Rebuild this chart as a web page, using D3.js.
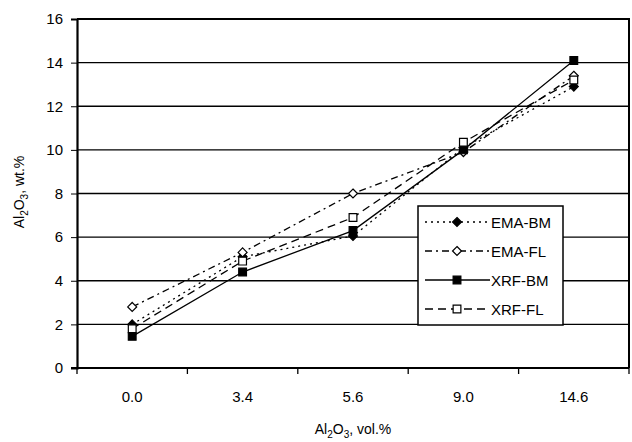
<!DOCTYPE html>
<html>
<head>
<meta charset="utf-8">
<script src="https://cdn.jsdelivr.net/npm/d3@7"></script>
<style>
  body { margin: 0; background: #fff; }
  text { font-family: "Liberation Sans", Arial, sans-serif; fill: #000; }
</style>
</head>
<body>
<svg id="chart" width="632" height="442"></svg>
<script>
// categories along x (Al2O3 vol.%)
let categories = ["0.0", "3.4", "5.6", "9.0", "14.6"];
let yTicks = [0, 2, 4, 6, 8, 10, 12, 14, 16];

// series, wt.%
let emaBM = [2.0, 5.1, 6.05, 10.1, 12.9];
let emaFL = [2.8, 5.3, 8.0, 9.9, 13.4];
let xrfBM = [1.45, 4.4, 6.3, 10.0, 14.1];
let xrfFL = [1.8, 4.9, 6.9, 10.35, 13.2];

let seriesNames = ["EMA-BM", "EMA-FL", "XRF-BM", "XRF-FL"];

// square rotated 45deg (excel style diamond)
let symbolRhomb = {
    draw(ctx, size) {
        let r = Math.sqrt(size / 2);
        ctx.moveTo(0, -r);
        ctx.lineTo(r, 0);
        ctx.lineTo(0, r);
        ctx.lineTo(-r, 0);
        ctx.closePath();
    }
};

let series = [
    { name: seriesNames[0], values: emaBM, dash: "2,4", shape: symbolRhomb, fill: "#000" },
    { name: seriesNames[1], values: emaFL, dash: "7,4,2,4", shape: symbolRhomb, fill: "#fff" },
    { name: seriesNames[2], values: xrfBM, dash: null, shape: d3.symbolSquare, fill: "#000" },
    { name: seriesNames[3], values: xrfFL, dash: "8,5", shape: d3.symbolSquare, fill: "#fff" }
];

let mLeft = 77, mRight = 629, mTop = 19, mBottom = 368;

let svg = d3.select("#chart");

let x = d3.scaleBand().domain(categories).range([mLeft, mRight]);
let y = d3.scaleLinear().domain([0, 16]).range([mBottom, mTop]);

// grid lines
svg.append("g")
    .selectAll("line")
    .data(yTicks)
    .enter()
    .append("line")
    .attr("x1", mLeft).attr("x2", mRight)
    .attr("y1", d => y(d)).attr("y2", d => y(d))
    .attr("stroke", "#000")
    .attr("stroke-width", 1.3);

// frame (top/right)
svg.append("path")
    .attr("d", `M${mLeft},${mTop}H${mRight}V${mBottom}`)
    .attr("fill", "none")
    .attr("stroke", "#000")
    .attr("stroke-width", 2);

// y axis
let yAxis = svg.append("g")
    .attr("transform", `translate(${mLeft},0)`)
    .call(d3.axisLeft(y).tickValues(yTicks).tickSize(6).tickPadding(8));
yAxis.select(".domain").attr("stroke-width", 2.2);
yAxis.selectAll("text").style("font-size", "15px").style("font-family", "Liberation Sans, Arial, sans-serif");

// x axis - ticks on band edges
let xAxis = svg.append("g")
    .attr("transform", `translate(0,${mBottom})`);
xAxis.append("line")
    .attr("x1", mLeft - 6).attr("x2", mRight)
    .attr("stroke", "#000").attr("stroke-width", 2.2);
let edges = categories.map(c => x(c)).concat([mRight]);
xAxis.selectAll(".tk")
    .data(edges)
    .enter()
    .append("line")
    .attr("class", "tk")
    .attr("x1", d => d).attr("x2", d => d)
    .attr("y1", 0).attr("y2", 6)
    .attr("stroke", "#000").attr("stroke-width", 1.3);
xAxis.selectAll("text")
    .data(categories)
    .enter()
    .append("text")
    .attr("x", d => x(d) + x.bandwidth() / 2)
    .attr("y", 34)
    .attr("text-anchor", "middle")
    .style("font-size", "15px")
    .text(d => d);

// lines
let line = d3.line()
    .x((d, i) => x(categories[i]) + x.bandwidth() / 2)
    .y(d => y(d));

series.forEach(s => {
    svg.append("path")
        .datum(s.values)
        .attr("d", line)
        .attr("fill", "none")
        .attr("stroke", "#000")
        .attr("stroke-width", 1.3)
        .attr("stroke-dasharray", s.dash);
});

function symbolSize(s) {
    return s.shape === symbolRhomb ? 40 : 60;
}

series.forEach(s => {
    svg.append("g")
        .selectAll("path")
        .data(s.values)
        .enter()
        .append("path")
        .attr("transform", (d, i) => `translate(${x(categories[i]) + x.bandwidth() / 2},${y(d)})`)
        .attr("d", d3.symbol().type(s.shape).size(symbolSize(s)))
        .attr("fill", s.fill)
        .attr("stroke", "#000")
        .attr("stroke-width", 1.2);
});

// legend
let lg = svg.append("g").attr("transform", "translate(418,206)");
lg.append("rect")
    .attr("width", 145).attr("height", 119)
    .attr("fill", "#fff").attr("stroke", "#000").attr("stroke-width", 1.5);
series.forEach((s, i) => {
    let yy = 16 + i * 29;
    lg.append("line")
        .attr("x1", 7).attr("x2", 72)
        .attr("y1", yy).attr("y2", yy)
        .attr("stroke", "#000").attr("stroke-width", 1.3)
        .attr("stroke-dasharray", s.dash);
    lg.append("path")
        .attr("transform", `translate(39,${yy})`)
        .attr("d", d3.symbol().type(s.shape).size(symbolSize(s)))
        .attr("fill", s.fill).attr("stroke", "#000").attr("stroke-width", 1.2);
    lg.append("text")
        .attr("x", 73).attr("y", yy + 6)
        .style("font-size", "15px")
        .text(s.name);
});

// axis titles
let xt = svg.append("text")
    .attr("x", 353).attr("y", 434)
    .attr("text-anchor", "middle")
    .style("font-size", "14px");
xt.append("tspan").text("Al");
xt.append("tspan").attr("dy", 4).style("font-size", "10px").text("2");
xt.append("tspan").attr("dy", -4).text("O");
xt.append("tspan").attr("dy", 4).style("font-size", "10px").text("3");
xt.append("tspan").attr("dy", -4).text(", vol.%");

let yt = svg.append("text")
    .attr("transform", "translate(24,192) rotate(-90)")
    .attr("text-anchor", "middle")
    .style("font-size", "14px");
yt.append("tspan").text("Al");
yt.append("tspan").attr("dy", 4).style("font-size", "10px").text("2");
yt.append("tspan").attr("dy", -4).text("O");
yt.append("tspan").attr("dy", 4).style("font-size", "10px").text("3");
yt.append("tspan").attr("dy", -4).text(", wt.%");
</script>
</body>
</html>
